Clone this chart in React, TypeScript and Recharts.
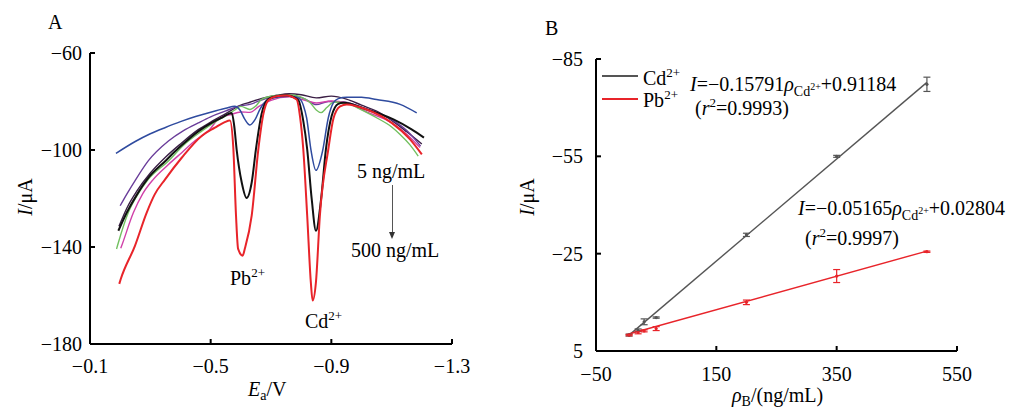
import React from 'react';
import { ComposedChart, Line, Scatter, ErrorBar, XAxis, YAxis } from 'recharts';

const FONT = "'Liberation Serif', 'Times New Roman', Times, serif";

// ---- Panel A: stripping voltammograms, [E (V), I (µA)] ----
const curve5: [number, number][] = [
  [-0.196, -131.5], [-0.222, -124], [-0.255, -117], [-0.3, -109.5], [-0.35, -103], [-0.4, -97.5],
  [-0.46, -91.5], [-0.5, -88.5], [-0.55, -85], [-0.6, -81.5], [-0.63, -80.3], [-0.67, -78.7],
  [-0.72, -77.4], [-0.76, -76.8], [-0.8, -77.2], [-0.85, -78.5], [-0.9, -77.8], [-0.95, -79],
  [-1.0, -81.5], [-1.05, -84], [-1.1, -87.8], [-1.15, -92.5], [-1.2, -97.5],
];
const curve20: [number, number][] = [
  [-0.2, -123], [-0.222, -118.2], [-0.25, -112.5], [-0.293, -104.5], [-0.36, -96.3], [-0.41, -92],
  [-0.459, -88.8], [-0.5, -86.3], [-0.548, -84], [-0.59, -82], [-0.63, -81.2], [-0.67, -79.3],
  [-0.72, -77.8], [-0.77, -77.6], [-0.81, -78.8], [-0.85, -81.3], [-0.89, -80], [-0.94, -80.2],
  [-1.0, -82.3], [-1.05, -84.5], [-1.1, -87.5], [-1.15, -92], [-1.196, -98.4],
];
const curve30: [number, number][] = [
  [-0.202, -140.5], [-0.205, -139.5], [-0.244, -125.8], [-0.275, -118], [-0.31, -112.1], [-0.36, -106],
  [-0.404, -101.1], [-0.45, -96], [-0.492, -92.2], [-0.53, -86.8], [-0.564, -85.5], [-0.6, -84.3],
  [-0.63, -84.5], [-0.66, -82], [-0.7, -79.5], [-0.76, -78.1], [-0.81, -79.4], [-0.85, -80.6],
  [-0.9, -79.8], [-0.95, -80.5], [-1.017, -84.3], [-1.1, -88.8], [-1.15, -93.5], [-1.194, -99],
];
const curve50: [number, number][] = [
  [-0.188, -140.8], [-0.191, -139.5], [-0.227, -125.8], [-0.26, -118], [-0.293, -112.1], [-0.36, -104.5],
  [-0.41, -98], [-0.47, -92.2], [-0.51, -88.8], [-0.548, -86], [-0.58, -83.5], [-0.6, -82],
  [-0.63, -83.3], [-0.65, -81.8], [-0.67, -79], [-0.72, -77.5], [-0.765, -77.3], [-0.8, -78.2],
  [-0.83, -80.5], [-0.85, -83.5], [-0.866, -84.6], [-0.885, -82.5], [-0.91, -80.2], [-0.962, -81.2],
  [-1.0, -83.5], [-1.05, -86.7], [-1.1, -90.5], [-1.128, -93.6], [-1.16, -97.8], [-1.188, -102.5],
];
const curve200: [number, number][] = [
  [-0.186, -101.4], [-0.25, -96.5], [-0.3, -93.3], [-0.35, -90.7], [-0.4, -88.3], [-0.45, -86.2],
  [-0.5, -84.4], [-0.55, -82.8], [-0.58, -82], [-0.597, -83.5], [-0.614, -87.5], [-0.63, -89.7],
  [-0.647, -87.5], [-0.664, -83], [-0.686, -79.5], [-0.719, -78.3], [-0.763, -77.8], [-0.791, -78.5],
  [-0.807, -81.5], [-0.818, -86.7], [-0.833, -100.4], [-0.849, -108.4], [-0.871, -100.4], [-0.89, -86.7],
  [-0.907, -80.5], [-0.923, -78.8], [-0.951, -78.2], [-1.0, -78.2], [-1.05, -79.2], [-1.128, -81.2],
  [-1.183, -84.7],
];
const curve350: [number, number][] = [
  [-0.194, -133.3], [-0.222, -125.8], [-0.255, -118.5], [-0.29, -112], [-0.35, -104.5], [-0.4, -98.5],
  [-0.46, -92.2], [-0.5, -89], [-0.536, -86.7], [-0.57, -84.7], [-0.578, -90], [-0.586, -99.7],
  [-0.603, -113.4], [-0.619, -119.8], [-0.636, -113.4], [-0.65, -99.7], [-0.669, -85], [-0.691, -79],
  [-0.719, -77.8], [-0.752, -77.4], [-0.78, -78.5], [-0.791, -79.5], [-0.807, -88], [-0.82, -99.7],
  [-0.835, -120.3], [-0.849, -133.3], [-0.866, -120.3], [-0.882, -99.7], [-0.901, -86], [-0.923, -81],
  [-0.94, -80.5], [-1.017, -83.3], [-1.106, -87.4], [-1.166, -91.5], [-1.207, -94.9],
];
const curve500: [number, number][] = [
  [-0.197, -155.2], [-0.202, -153.2], [-0.249, -139.5], [-0.288, -125.8], [-0.315, -118.2], [-0.349, -112.1],
  [-0.404, -103.2], [-0.47, -94.2], [-0.514, -90.8], [-0.545, -88.6], [-0.564, -87.8], [-0.575, -99],
  [-0.584, -127], [-0.591, -140.8], [-0.606, -143.6], [-0.613, -140.8], [-0.636, -127.1], [-0.658, -99.7],
  [-0.675, -85], [-0.691, -79.5], [-0.718, -77.8], [-0.751, -77.5], [-0.785, -79.2], [-0.796, -86],
  [-0.807, -99.7], [-0.82, -127.1], [-0.832, -154.5], [-0.838, -162.1], [-0.849, -154.5], [-0.862, -127.1],
  [-0.89, -99.7], [-0.907, -87], [-0.929, -82], [-0.951, -81.2], [-1.017, -83.3], [-1.1, -88.8],
  [-1.161, -95.6], [-1.2, -101.8],
];

const xTicksA = [-0.1, -0.5, -0.9, -1.3];
const yTicksA = [-60, -100, -140, -180];

// ---- Panel B: calibration ----
const conc = [5, 20, 30, 50, 200, 350, 500];
const cdCurrent = [0.1, -1.4, -4.0, -5.3, -30.8, -55.0, -77.2];
const cdError = [0.3, 0.4, 0.9, 0.2, 0.5, 0.3, 2.2];
const pbCurrent = [0.1, -0.7, -1.2, -1.9, -10.0, -18.1, -25.6];
const pbError = [0.2, 0.4, 0.3, 0.6, 0.7, 2.0, 0.2];
const cdFitX = [5, 500];
const cdFitY = [0.1, -77.8];
const pbFitX = [0, 500];
const pbFitY = [0.0, -25.8];

const xTicksB = [-50, 150, 350, 550];
const yTicksB = [-85, -55, -25, 5];

const curvesA = [
  { name: '5', pts: curve5, color: '#3b1f45', w: 1.4 },
  { name: '20', pts: curve20, color: '#6a3d9a', w: 1.4 },
  { name: '30', pts: curve30, color: '#d040a8', w: 1.4 },
  { name: '50', pts: curve50, color: '#72c060', w: 1.4 },
  { name: '200', pts: curve200, color: '#2f4b9f', w: 1.5 },
  { name: '350', pts: curve350, color: '#111111', w: 2 },
  { name: '500', pts: curve500, color: '#e8242a', w: 2 },
];

const fmt = (v: number) => (v < 0 ? '\u2212' + String(Math.abs(v)) : String(v));
const tickStyle = { fill: '#000', fontSize: 20, fontFamily: FONT };
const axisLine = { stroke: '#000', strokeWidth: 2 };

function T({ x, y, size = 20, children, color = '#000' }: { x: number; y: number; size?: number; children: React.ReactNode; color?: string }) {
  return (
    <div style={{ position: 'absolute', left: x, top: y - Math.round(size * 0.84), fontSize: size, lineHeight: `${size}px`, whiteSpace: 'nowrap', color, fontFamily: FONT }}>
      {children}
    </div>
  );
}

const Sup = ({ children, size = 13, up = 8 }: { children: React.ReactNode; size?: number; up?: number }) => (
  <span style={{ fontSize: size, position: 'relative', top: -up }}>{children}</span>
);
const Sub = ({ children, size = 14, down = 5 }: { children: React.ReactNode; size?: number; down?: number }) => (
  <span style={{ fontSize: size, position: 'relative', top: down }}>{children}</span>
);

function RotTitle({ cx, cy }: { cx: number; cy: number }) {
  return (
    <div style={{ position: 'absolute', left: cx - 50, top: cy - 10, width: 100, height: 20, lineHeight: '20px', fontSize: 20, textAlign: 'center', transform: 'rotate(-90deg)', fontFamily: FONT }}>
      <i>I</i>/μA
    </div>
  );
}

const Dot = (color: string) => (props: any) => <circle cx={props.cx} cy={props.cy} r={1.6} fill={color} />;

function PanelA() {
  return (
    <ComposedChart width={500} height={410} margin={{ top: 53, right: 48, bottom: 26, left: 30 }}>
      <XAxis
        dataKey="E" type="number" domain={[-1.3, -0.1]} reversed ticks={xTicksA} tickFormatter={fmt}
        axisLine={axisLine} tickLine={{ stroke: '#000', strokeWidth: 2, transform: 'translate(0,-5)' }}
        tickSize={5} tickMargin={10} height={40} tick={tickStyle} allowDataOverflow
      />
      <YAxis
        type="number" domain={[-180, -60]} ticks={yTicksA} tickFormatter={fmt} width={60}
        axisLine={axisLine} tickLine={{ stroke: '#000', strokeWidth: 2, transform: 'translate(5,0)' }}
        tickSize={5} tickMargin={3} tick={tickStyle} allowDataOverflow
      />
      {curvesA.map((c) => (
        <Line
          key={c.name}
          data={c.pts.map(([E, I]) => ({ E, I }))}
          dataKey="I"
          type="monotone"
          stroke={c.color}
          strokeWidth={c.w}
          dot={false}
          activeDot={false}
          isAnimationActive={false}
        />
      ))}
    </ComposedChart>
  );
}

function PanelB() {
  const cdPts = conc.map((x, i) => ({ x, y: cdCurrent[i], err: cdError[i] }));
  const pbPts = conc.map((x, i) => ({ x, y: pbCurrent[i], err: pbError[i] }));
  const cdFit = cdFitX.map((x, i) => ({ x, y: cdFitY[i] }));
  const pbFit = pbFitX.map((x, i) => ({ x, y: pbFitY[i] }));
  return (
    <ComposedChart width={520} height={410} margin={{ top: 59, right: 63, bottom: 19, left: 36 }}>
      <XAxis
        dataKey="x" type="number" domain={[-50, 550]} ticks={xTicksB} tickFormatter={fmt}
        axisLine={axisLine} tickLine={{ stroke: '#000', strokeWidth: 2, transform: 'translate(0,-5)' }}
        tickSize={5} tickMargin={11} height={40} tick={tickStyle}
      />
      <YAxis
        type="number" domain={[-85, 5]} reversed ticks={yTicksB} tickFormatter={fmt} width={60}
        axisLine={axisLine} tickLine={{ stroke: '#000', strokeWidth: 2, transform: 'translate(5,0)' }}
        tickSize={5} tickMargin={8} tick={tickStyle}
      />
      <Line data={cdFit} dataKey="y" type="linear" stroke="#555" strokeWidth={1.4} dot={false} activeDot={false} isAnimationActive={false} />
      <Line data={pbFit} dataKey="y" type="linear" stroke="#e8242a" strokeWidth={1.4} dot={false} activeDot={false} isAnimationActive={false} />
      <Scatter data={cdPts} dataKey="y" shape={Dot('#555')} isAnimationActive={false}>
        <ErrorBar dataKey="err" direction="y" width={3.5} stroke="#555" strokeWidth={1.2} />
      </Scatter>
      <Scatter data={pbPts} dataKey="y" shape={Dot('#e8242a')} isAnimationActive={false}>
        <ErrorBar dataKey="err" direction="y" width={3.5} stroke="#e8242a" strokeWidth={1.2} />
      </Scatter>
    </ComposedChart>
  );
}

export default function App() {
  return (
    <div style={{ position: 'absolute', left: 0, top: 0, width: 1020, height: 410, background: '#fff', fontFamily: FONT, overflow: 'hidden' }}>
      <div style={{ position: 'absolute', left: 0, top: 0 }}>
        <PanelA />
      </div>
      <div style={{ position: 'absolute', left: 500, top: 0 }}>
        <PanelB />
      </div>

      {/* Panel A annotations */}
      <T x={48} y={29}>A</T>
      <RotTitle cx={25} cy={197} />
      <T x={248} y={396}><i>E</i><Sub size={14} down={4}>a</Sub>/V</T>
      <T x={230} y={285}>Pb<Sup>2+</Sup></T>
      <T x={305} y={328}>Cd<Sup>2+</Sup></T>
      <T x={357} y={178}>5 ng/mL</T>
      <T x={351} y={257}>500 ng/mL</T>
      <div style={{ position: 'absolute', left: 392, top: 185, width: 1, height: 48, background: '#555' }} />
      <div style={{ position: 'absolute', left: 389, top: 232, width: 0, height: 0, borderLeft: '3.5px solid transparent', borderRight: '3.5px solid transparent', borderTop: '7px solid #333' }} />

      {/* Panel B annotations */}
      <T x={545} y={35}>B</T>
      <RotTitle cx={527} cy={197} />
      <T x={732} y={402}><i>ρ</i><Sub size={14} down={4}>B</Sub>/(ng/mL)</T>
      <div style={{ position: 'absolute', left: 602, top: 75, width: 36, height: 1.5, background: '#555' }} />
      <div style={{ position: 'absolute', left: 602, top: 98, width: 36, height: 1.5, background: '#e8242a' }} />
      <T x={643} y={85}>Cd<Sup>2+</Sup></T>
      <T x={643} y={107}>Pb<Sup>2+</Sup></T>
      <T x={690} y={91}>
        <i>I</i>=−0.15791<i>ρ</i><Sub>Cd<Sup size={10} up={6}>2+</Sup></Sub>+0.91184
      </T>
      <T x={695} y={115}>(<i>r</i><Sup>2</Sup>=0.9993)</T>
      <T x={798} y={215}>
        <i>I</i>=−0.05165<i>ρ</i><Sub>Cd<Sup size={10} up={6}>2+</Sup></Sub>+0.02804
      </T>
      <T x={805} y={245}>(<i>r</i><Sup>2</Sup>=0.9997)</T>
    </div>
  );
}
